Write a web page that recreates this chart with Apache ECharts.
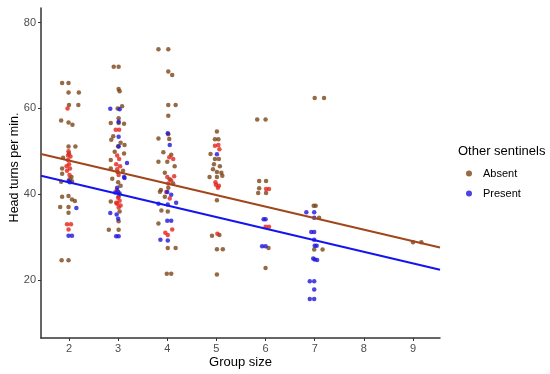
<!DOCTYPE html>
<html>
<head>
<meta charset="utf-8">
<script src="https://cdn.jsdelivr.net/npm/echarts@6/dist/echarts.min.js"></script>
<style>html,body{margin:0;padding:0;background:#fff}#c{width:550px;height:374px}</style>
</head>
<body>
<div id="c"></div>
<script>
// ---- data ----
var xTicks = [2, 3, 4, 5, 6, 7, 8, 9];
var yTicks = [20, 40, 60, 80];

// Absent (other sentinels absent) - brown dots
var absentBrown = [
  [1.86,65.9],[1.99,65.9],[1.99,63.7],[2.20,63.7],[2.0,60.8],[2.19,60.8],[1.84,57.2],[1.99,56.7],[2.07,56.2],
  [1.99,51.1],[2.13,51.1],[1.88,48.5],[2.0,49.5],[1.86,46],[2.05,44],[1.86,44.8],[1.84,42.9],[2.01,43.5],[2.06,43],
  [1.86,39.4],[1.99,39.6],[2.06,38.8],[1.82,37],[1.99,37],[1.99,35.7],[2.12,38.4],[1.85,24.6],[1.99,24.6],
  [2.91,69.7],[3.01,69.7],[3.01,64.5],[3.03,64],[2.99,60],[3.08,60.5],[3.01,57.7],[2.85,56.6],[3.01,56.6],[3.12,56.4],
  [2.86,52.7],[3.0,51.2],[3.13,51.5],[2.93,49.9],[3.12,49.5],[2.85,48],[2.85,46],[2.99,45.2],[3.1,45.5],[2.88,43.6],
  [3.0,42.8],[3.05,42],[2.85,38.3],[3.01,39.5],[3.03,36],[3.01,33.7],[2.81,31.7],[3.01,31.7],[2.9,53.5],[3.05,52],
  [3.82,73.8],[4.02,73.8],[4.02,68.6],[4.1,67.8],[4.02,60.8],[4.17,60.8],[4.02,58.3],[3.82,53],[4.02,54],[4.04,52.9],
  [3.82,47.6],[4.0,47.6],[4.15,46.5],[3.95,45],[4.05,43.5],[3.87,41],[3.85,40.6],[4.02,41.5],[4.12,42.5],[3.95,39.4],
  [3.88,36.2],[4.01,36],[3.82,33.2],[4.01,27.5],[4.17,27.5],[3.99,21.5],[4.08,21.5],[3.92,49.8],[4.08,49.2],
  [5.01,54.6],[4.97,52.8],[5.04,52.8],[4.88,49.4],[4.97,48.2],[5.05,48.2],[4.93,45.8],[5.01,45.2],[5.1,45],[4.86,44],
  [5.01,44],[5.12,44.3],[5.01,38.6],[4.91,30.3],[5.06,30.5],[5.01,27.2],[5.13,27.2],[5.01,21.3],[4.95,47],[5.07,46.5],
  [5.83,57.4],[6.0,57.4],[5.87,43.1],[6.01,43.1],[5.87,41.4],[5.85,40.3],[6.01,40.3],[6.06,27.5],[6.0,22.8],
  [7.0,62.4],[7.19,62.4],[6.98,37.3],[7.02,37.3],[7.09,34.5],[6.99,27.1],[7.16,27.1],[9.0,28.8],[9.17,28.8]
];
// Absent - red dots
var absentRed = [
  [1.97,60],[1.98,48],[2.0,47],[1.95,46.5],[2.02,46],[1.96,45.5],[2.03,48.8],[1.99,50],[1.96,33],[2.04,33],[1.99,31.8],[1.98,49],[2.01,44.5],
  [2.95,55],[3.02,55],[2.98,49],[3.02,48.2],[2.96,47],[3.04,46.5],[2.98,45.8],[3.01,44.5],[2.97,41],[3.0,39.2],[3.03,38.5],[2.98,37.8],[3.01,36.9],[2.96,38],[3.05,37.4],
  [4.04,48.6],[4.12,48.2],[4.0,44],[4.08,43.2],[4.14,44.2],[4.02,42.5],[3.98,40.5],[4.05,39],[3.96,31],[4.01,30.5],[4.1,31.8],
  [4.97,51.3],[5.04,51.5],[5.06,50.5],[4.99,42.2],[5.05,42],[5.03,41.5],[4.98,42.8],[5.02,30.8],
  [6.01,41.2],[6.07,41.2],[6.0,32.4],[6.07,32.4]
];
// Present - blue dots
var present = [
  [1.99,43.0],[2.02,42.8],[2.15,36.8],[1.99,30.3],[2.06,30.3],
  [2.84,59.9],[3.03,59.8],[3.01,56.9],[3.01,53.4],[3.01,51.1],[3.18,47.3],[3.13,43.8],[3.12,44],[2.94,40.4],[3.0,40.6],
  [3.03,40.2],[2.84,35.6],[2.97,35.3],[3.0,34.3],[2.96,30.2],[3.01,30.2],[2.98,41.5],
  [4.01,54.2],[4.05,51.5],[3.82,37.8],[4.01,37.6],[4.18,38],[4.08,39.9],[4.0,33.8],[4.08,33.8],[3.86,29.4],[4.01,29.2],[4.0,40.5],
  [5.01,49.3],
  [5.96,34.2],[6.0,34.2],[5.93,27.9],[6.0,27.9],
  [6.83,35.8],[6.99,35.8],[6.99,34.5],[6.93,31.2],[6.99,31.2],[6.99,29.4],[7.0,28.0],[7.04,28.0],[6.97,25],[7.0,24.8],[7.05,24.7],
  [6.9,19.7],[6.99,19.7],[6.99,17.8],[6.9,15.6],[6.99,15.6]
];
// fitted lines (end points)
var absentFit = [[1.43,49.4],[9.55,27.6]];
var presentFit = [[1.43,44.3],[9.55,22.4]];

var chart = echarts.init(document.getElementById('c'), null, {renderer:'canvas'});
var axisLabelStyle = {color:'#4d4d4d', fontSize:11, fontFamily:'Liberation Sans, Arial, sans-serif'};
chart.setOption({
  animation:false,
  backgroundColor:'#ffffff',
  grid:{left:41, right:110, top:8, bottom:36, containLabel:false, outerBoundsMode:'none'},
  xAxis:{
    type:'value', min:1.43, max:9.55,
    name:'Group size', nameLocation:'middle', nameGap:18, nameMoveOverlap:false,
    nameTextStyle:{color:'#000', fontSize:13, fontFamily:'Liberation Sans, Arial, sans-serif'},
    axisLine:{show:true, lineStyle:{color:'#333', width:1.5}},
    axisTick:{show:true, length:3, customValues:xTicks, lineStyle:{color:'#333'}},
    axisLabel:{customValues:xTicks, margin:5, ...axisLabelStyle},
    splitLine:{show:false}
  },
  yAxis:{
    type:'value', min:6.5, max:83.4,
    name:'Head turns per min.', nameLocation:'middle', nameGap:20, nameMoveOverlap:false,
    nameTextStyle:{color:'#000', fontSize:12.5, fontFamily:'Liberation Sans, Arial, sans-serif', padding:[0,0,0,11]},
    axisLine:{show:true, lineStyle:{color:'#333', width:1.5}},
    axisTick:{show:true, length:3, customValues:yTicks, lineStyle:{color:'#333'}},
    axisLabel:{customValues:yTicks, margin:5, ...axisLabelStyle},
    splitLine:{show:false}
  },
  legend:{
    orient:'vertical', left:461, top:163, itemWidth:6, itemHeight:6, itemGap:9,
    icon:'circle', data:['Absent','Present'],
    textStyle:{color:'#000', fontSize:11, fontFamily:'Liberation Sans, Arial, sans-serif', padding:[0,0,0,6]}
  },
  graphic:[{
    type:'text', left:458, top:145,
    style:{text:'Other sentinels', fill:'#000', fontSize:13, fontFamily:'Liberation Sans, Arial, sans-serif'}
  }],
  series:[
    {name:'Absent', type:'scatter', data:absentBrown, symbolSize:4.5, itemStyle:{color:'#7a4516'}, z:2},
    {name:'Absent', type:'scatter', data:absentRed, symbolSize:4.5, itemStyle:{color:'#e3231b'}, z:3},
    {name:'Present', type:'scatter', data:present, symbolSize:4.5, itemStyle:{color:'#1e14dc'}, z:4},
    {name:'absentFit', type:'line', data:absentFit, showSymbol:false, symbol:'none', lineStyle:{color:'#a0461a', width:2}, z:5},
    {name:'presentFit', type:'line', data:presentFit, showSymbol:false, symbol:'none', lineStyle:{color:'#1414f0', width:2}, z:5}
  ]
});
</script>
</body>
</html>
